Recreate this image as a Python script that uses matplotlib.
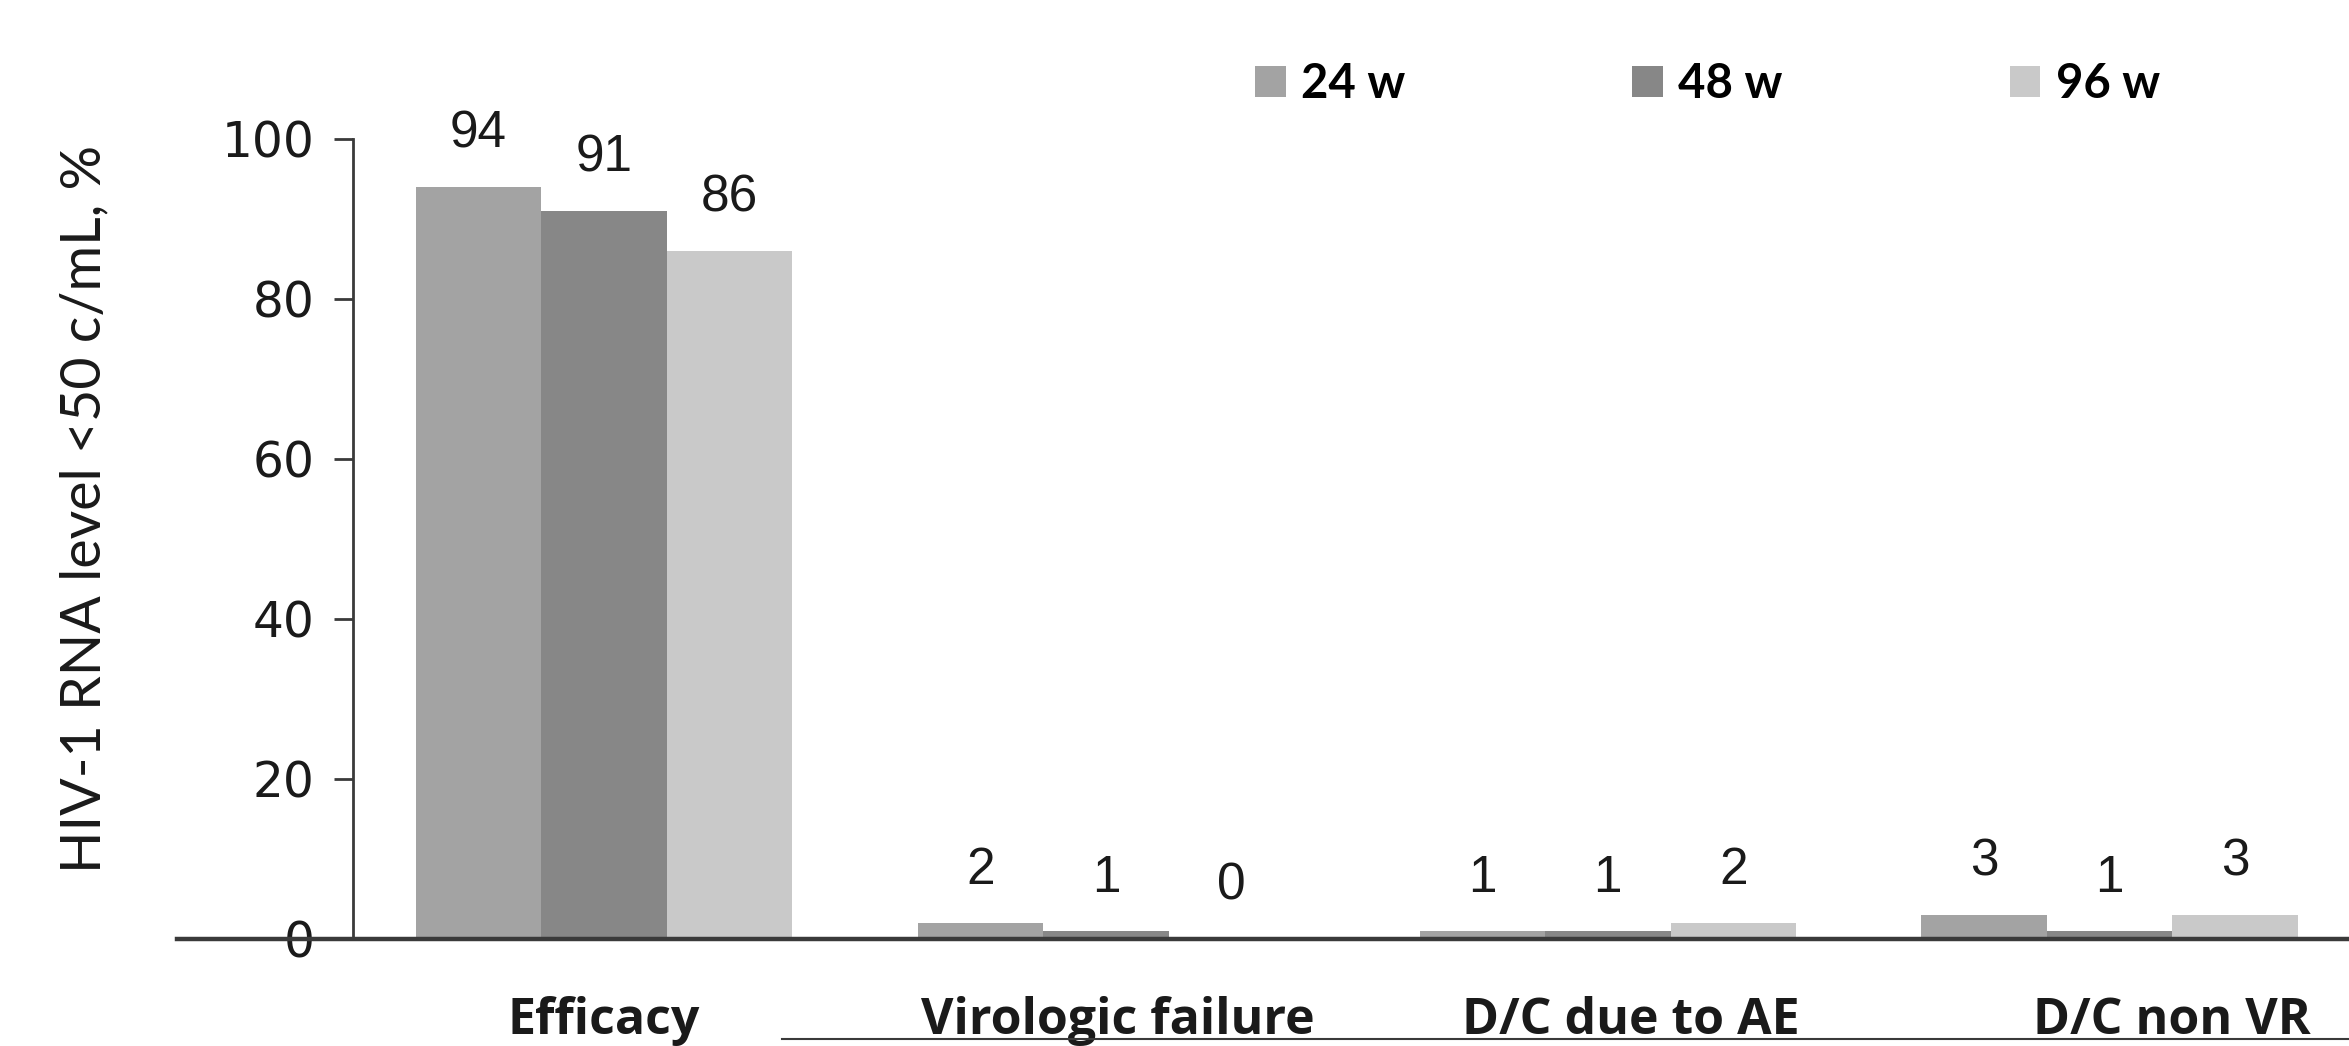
import matplotlib
matplotlib.use("Agg")
import matplotlib.pyplot as plt
from matplotlib.lines import Line2D
import numpy as np

# data
categories = ["Efficacy", "Virologic failure", "D/C due to AE", "D/C non VR"]
weeks = ["24 w", "48 w", "96 w"]
vals_24w = [94, 2, 1, 3]
vals_48w = [91, 1, 1, 1]
vals_96w = [86, 0, 2, 3]
yticks = [0, 20, 40, 60, 80, 100]

# styles / layout
colors = ["#a3a3a3", "#878787", "#c9c9c9"]
label_shift = [0.0, 0.024, 0.045, 0.125]
W, H = 2349, 1046
txt_font = ["Lato", "DejaVu Sans"]
num_font = ["Liberation Sans", "DejaVu Sans"]
cat_font = ["Open Sans", "DejaVu Sans"]

fig = plt.figure(figsize=(W / 100, H / 100), dpi=100)
ax = fig.add_axes([177 / W, 1 - 939 / H, 1 - 177 / W, 800 / H])

x = np.arange(len(categories))
bw = 0.25
series = [vals_24w, vals_48w, vals_96w]
handles = []
for i, vals in enumerate(series):
    xs = x + (i - 1) * bw
    b = ax.bar(xs, vals, width=bw, color=colors[i], label=weeks[i], zorder=2)
    handles.append(b)
    for xx, v in zip(xs, vals):
        ax.text(xx, v + 6.6, str(v), ha="center", va="center", fontsize=37,
                family=num_font, color="#1a1a1a", clip_on=False)

ax.set_xlim(-0.851, 3.477)
ax.set_ylim(0, 100)

for s in ["top", "right"]:
    ax.spines[s].set_visible(False)
ax.spines["left"].set_position(("data", -0.5))
ax.spines["left"].set_bounds(0, 100)
ax.spines["left"].set_linewidth(2)
ax.spines["left"].set_color("#3a3a3a")
ax.spines["bottom"].set_linewidth(3.2)
ax.spines["bottom"].set_color("#3a3a3a")
ax.spines["bottom"].set_zorder(3)

ax.set_yticks(yticks)
ax.set_yticklabels([str(t) for t in yticks], family="DejaVu Sans", fontsize=35,
                   color="#1a1a1a")
ax.tick_params(axis="y", direction="out", length=14, width=2, color="#3a3a3a", pad=14)
ax.set_xticks([])

for xi, name, sh in zip(x, categories, label_shift):
    ax.text(xi + sh, -11.9, name, ha="center", va="baseline", fontsize=36,
            fontweight="bold", family=cat_font, color="#1a1a1a", clip_on=False)

fig.text(85 / W, 1 - 509 / H, "HIV-1 RNA level <50 c/mL, %", rotation=90,
         ha="center", va="center", fontsize=40, family=txt_font, color="#1a1a1a")

# underline below the category labels
fig.add_artist(Line2D([782 / W, 1.0], [1 - 1039 / H, 1 - 1039 / H],
                      transform=fig.transFigure, color="#3a3a3a", linewidth=1.5))

fig.legend(handles=handles, labels=weeks, loc="center left",
           bbox_to_anchor=(1255 / W, 1 - 84 / H), ncol=3, frameon=False,
           prop={"family": txt_font, "weight": "bold", "size": 34},
           handlelength=0.65, handleheight=0.65, handletextpad=0.33,
           columnspacing=4.8, borderpad=0, borderaxespad=0)

fig.savefig("out.png", dpi=100)
